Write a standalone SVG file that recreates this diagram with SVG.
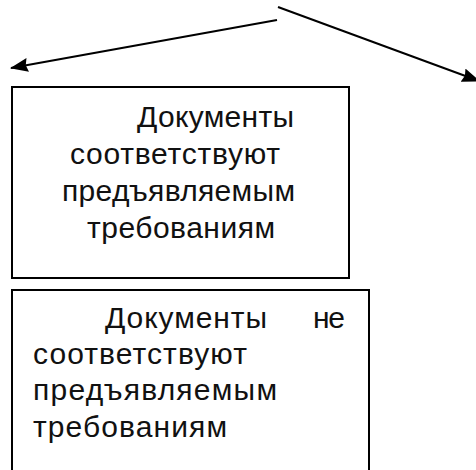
<svg xmlns="http://www.w3.org/2000/svg" width="476" height="470" viewBox="0 0 476 470">
<style>
.box{fill:#fff;stroke:#000;stroke-width:2}
.t{font-family:"Liberation Sans",Arial,sans-serif;font-size:30px;fill:#111}
.c{stroke:#000;stroke-width:2;fill:none}
</style>
<defs>
<marker id="ah" viewBox="0 0 18 14" refX="17" refY="7" markerWidth="18" markerHeight="14" markerUnits="userSpaceOnUse" orient="auto">
<path d="M0,0 L18,7 L0,14 L2,7 Z" fill="#000"/>
</marker>
</defs>
<rect width="476" height="470" fill="#fff"/>
<g id="connectors">
<line class="c" x1="277" y1="20" x2="11" y2="68" marker-end="url(#ah)"/>
<line class="c" x1="278" y1="7" x2="479" y2="81" marker-end="url(#ah)"/>
</g>
<g id="node1">
<rect class="box" x="12" y="87" width="337" height="191"/>
<text class="t" x="137" y="127" textLength="157" lengthAdjust="spacing">Документы</text>
<text class="t" x="70" y="164" textLength="210" lengthAdjust="spacing">соответствуют</text>
<text class="t" x="62" y="201" textLength="233" lengthAdjust="spacing">предъявляемым</text>
<text class="t" x="87" y="238" textLength="188" lengthAdjust="spacing">требованиям</text>
</g>
<g id="node2">
<rect class="box" x="12" y="290" width="357" height="190"/>
<text class="t" x="105" y="328" textLength="162" lengthAdjust="spacing">Документы</text>
<text class="t" x="313" y="328" textLength="32" lengthAdjust="spacing">не</text>
<text class="t" x="33" y="364" textLength="214" lengthAdjust="spacing">соответствуют</text>
<text class="t" x="33" y="400" textLength="244" lengthAdjust="spacing">предъявляемым</text>
<text class="t" x="33" y="437" textLength="194" lengthAdjust="spacing">требованиям</text>
</g>
</svg>
